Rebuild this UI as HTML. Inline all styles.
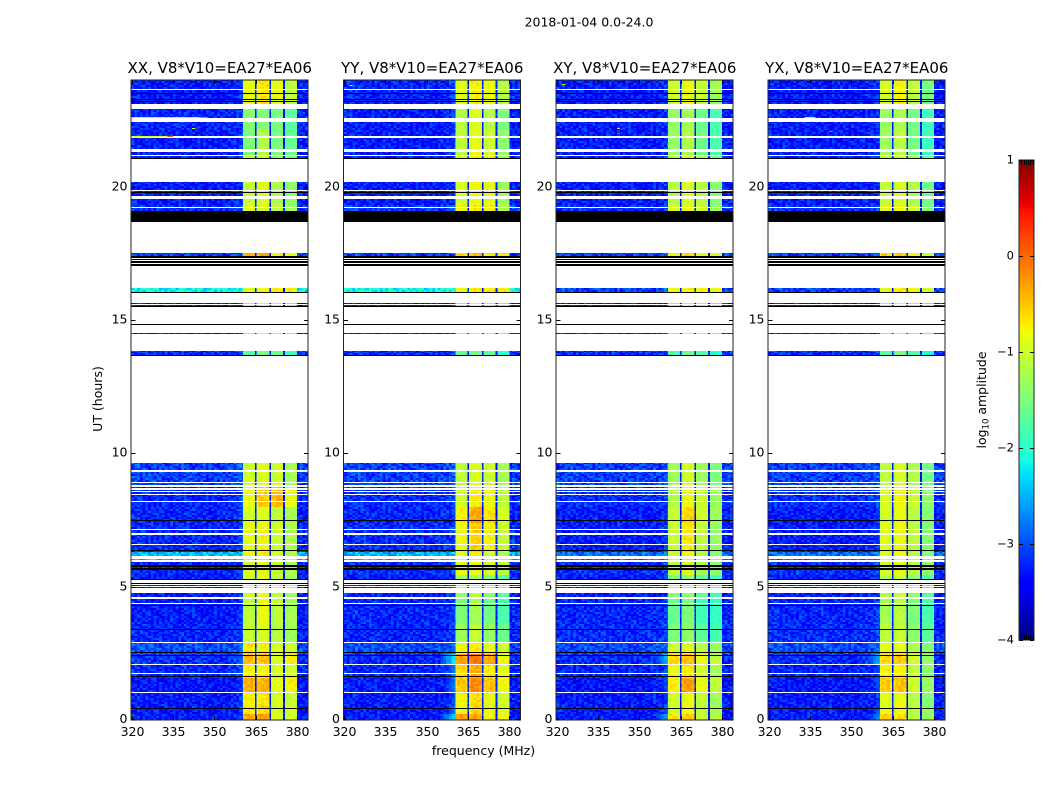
<!DOCTYPE html>
<html lang="en">
<head>
<meta charset="utf-8">
<title>2018-01-04 0.0-24.0</title>
<style>
html,body{margin:0;padding:0;background:#fff;width:1050px;height:800px;overflow:hidden}
svg{display:block;font-family:"DejaVu Sans","Liberation Sans",sans-serif}
#cells,#marks,#black-rows{shape-rendering:crispEdges}
</style>
</head>
<body>
<svg id="chart" xmlns="http://www.w3.org/2000/svg" width="1050" height="800" viewBox="0 0 1050 800">
  <defs>
    <linearGradient id="jet-gradient" x1="0" y1="1" x2="0" y2="0"></linearGradient>
  </defs>
  <text x="589" y="26.500" font-size="12.500" text-anchor="middle" fill="#000">2018-01-04 0.0-24.0</text>
  <g id="cells"></g>
  <g id="marks"></g>
  <g id="black-rows"></g>
  <g id="axes"></g>
  <text x="483.500" y="755" font-size="12.500" text-anchor="middle" fill="#000">frequency (MHz)</text>
  <text transform="translate(102,399) rotate(-90)" font-size="12.500" text-anchor="middle" fill="#000">UT (hours)</text>
  <g id="colorbar"></g>
  <text transform="translate(986,400) rotate(-90)" font-size="12.500" text-anchor="middle" fill="#000">log<tspan font-size="8.500" dy="2.500">10</tspan><tspan dy="-2.500"> amplitude</tspan></text>
</svg>
<script>
// ---- Chart data ----
const panelTitles = ["XX, V8*V10=EA27*EA06", "YY, V8*V10=EA27*EA06", "XY, V8*V10=EA27*EA06", "YX, V8*V10=EA27*EA06"];
const xTickValues = [320, 335, 350, 365, 380];
const yTickValues = [0, 5, 10, 15, 20];
const colorbarTickValues = [1, 0, -1, -2, -3, -4];
const colorbarTickLabels = ["1", "0", "\u22121", "\u22122", "\u22123", "\u22124"];
const colorbarMinorFractions = [0.15, 0.3, 0.45, 0.6, 0.75, 0.9];

// Frequency channel edges (MHz)
const channelEdges = [320,321,322,323,324,325,326,327,328,329,330,331,332,333,334,335,336,337,338,339,340,341,342,343,344,345,346,347,348,349,350,351,352,353,354,355,356,357,358,359,360,360.4,361,362,363,364,364.8,365.4,366,367,368,369,370,370.5,371,372,373,374,375,375.6,376,377,378,379,380,381,382,383,384];
// Spectral regions: region k covers bandEdges[k]..bandEdges[k+1]
const bandEdges = [320, 360.4, 364.8, 365.4, 370, 370.5, 375, 375.6, 380, 384];
const bandKinds = ["low", "b1", "dip", "b2", "dip", "b3", "dip", "b4", "top"];
const dipLevels = [-3.3, -3.25, -3.3, -3.3];
// Per-channel offset from the level of its region (log10 amplitude)
const channelOffsets = [0.05,0.03,0.05,0.02,0.04,0.03,0,0.02,0.01,0,0.02,0,0.01,0,0.01,0,0,-0.01,0,0.01,0,-0.02,0,0.01,0,-0.02,0,-0.01,0,-0.02,0,-0.01,-0.02,0,0,0.02,0.03,0.05,0.08,0.12,0.18,-0.08,0,0.03,0.02,-0.1,0,-0.1,0,0.03,0.03,0,-0.06,0,-0.06,0.02,0.03,0.02,-0.05,0,-0.05,0.02,0.02,0,-0.06,0.05,0,0,0.02];

// Observed time ranges (UT hours); everything else is left blank
const observedSpans = [[0,1.01],[1.05,1.71],[1.75,2.05],[2.09,2.88],[2.93,4.35],[4.39,4.54],[4.62,4.75],[4.95,4.99],[5.03,5.06],[5.28,5.63],[5.69,5.75],[5.81,5.94],[6.0,6.04],[6.14,6.55],[6.59,6.95],[7.01,7.11],[7.16,8.13],[8.16,8.19],[8.21,8.44],[8.49,8.55],[8.59,8.63],[8.69,8.75],[8.81,8.89],[8.91,9.31],[9.36,9.64],[13.68,13.84],[14.48,14.51],[15.53,15.57],[15.6,15.64],[16.06,16.2],[17.4,17.51],[19.09,19.2],[19.24,19.53],[19.64,19.84],[19.86,20.19],[21.08,21.14],[21.19,21.3],[21.41,21.84],[21.89,22.43],[22.56,22.91],[23.11,23.61],[23.65,24]];
// Fully flagged rows drawn black (UT hours)
const blackRows = [[0.42,0.45],[1.62,1.65],[2.41,2.45],[2.5,2.55],[3.38,3.4],[4.29,4.31],[5.1,5.15],[5.24,5.28],[5.63,5.69],[5.75,5.81],[6.34,6.38],[7.46,7.5],[13.65,13.68],[14.82,14.86],[15.48,15.53],[16.04,16.06],[17.04,17.1],[17.14,17.2],[17.24,17.29],[17.34,17.4],[18.69,19.09],[19.77,19.8],[21.03,21.08],[23.19,23.22],[23.24,23.27],[23.47,23.5]];

// Time epochs; each panel gives, per epoch: [low band, shoulder, band1, band2, band3, band4]
const epochEdges = [0,0.25,0.5,1,1.6,2.1,2.5,2.9,3.6,4.6,5.4,6,6.3,7.4,8,8.8,9.7,14,15.7,16.4,17.7,19.3,20.3,21.2,22.1,23,24];
const levelsXX = [
[-3.28,-3,-0.35,-0.3,-0.95,-0.95],[-3.28,-3,-0.7,-0.6,-1,-1],[-3.28,-3,-0.75,-0.7,-0.95,-1.05],[-3.32,-3,-0.4,-0.4,-0.85,-0.75],
[-3.2,-2.9,-0.75,-0.8,-0.95,-1],[-3.15,-2.8,-0.45,-0.5,-0.9,-0.75],[-3,-2.8,-0.7,-0.75,-0.95,-1.05],[-3.22,-3,-1.05,-0.95,-1.15,-1.3],
[-3.28,-3,-1.1,-0.85,-1.1,-1.25],[-3.28,-3.1,-1,-0.9,-1.1,-1.3],[-3.22,-3,-0.95,-0.9,-1.05,-1.2],[-2.45,-2.4,-0.8,-0.7,-0.95,-1.15],
[-3.22,-3,-0.85,-0.8,-1.05,-1.2],[-3.22,-3,-1,-0.9,-1.1,-1.25],[-3.22,-3,-0.85,-0.55,-0.45,-0.85],[-3.08,-2.9,-1,-0.9,-1,-1.25],
[-3.18,-3,-1.75,-1.5,-1.6,-1.9],[-3.28,-3.1,-1.2,-0.85,-1.1,-1.5],[-2.15,-2.1,-0.95,-0.75,-0.75,-0.75],[-3.1,-3,-0.4,-0.35,-0.8,-0.8],
[-3.18,-3,-0.85,-0.95,-1.1,-1.25],[-3.28,-3.1,-1.05,-0.9,-1.2,-1.4],[-3.28,-3.1,-1.05,-1.05,-1.35,-1.45],[-3.28,-3.1,-1.5,-1.2,-1.5,-1.65],
[-3.22,-3.1,-1.45,-1.45,-1.55,-1.7],[-3.28,-3.1,-0.85,-0.7,-0.85,-1.1]];
const levelsYY = [
[-3.28,-2.3,-0.25,-0.35,-0.75,-0.8],[-3.28,-2.7,-0.85,-0.6,-0.85,-0.95],[-3.28,-2.9,-0.75,-0.65,-0.85,-1],[-3.28,-2.7,-0.5,-0.2,-0.5,-0.8],
[-3.22,-2.7,-0.6,-0.4,-0.7,-0.9],[-3.22,-2.2,-0.3,-0.1,-0.35,-0.8],[-3.02,-2.8,-0.8,-0.7,-0.85,-1],[-3.22,-3,-1.3,-1.1,-1.35,-1.6],
[-3.22,-3,-1.5,-1.25,-1.55,-1.8],[-3.28,-3.1,-1.35,-1.2,-1.4,-1.7],[-3.18,-3,-0.85,-0.85,-0.95,-1.1],[-2.5,-2.4,-0.95,-0.75,-1,-1.2],
[-3.18,-3,-0.85,-0.55,-0.75,-1.05],[-3.22,-3,-0.75,-0.35,-0.65,-0.95],[-3.18,-3,-1,-0.75,-0.85,-1.1],[-3.08,-3,-1.1,-0.95,-1,-1.25],
[-3.18,-3,-1.7,-1.55,-1.65,-1.95],[-3.28,-3.1,-1.3,-0.95,-1.2,-1.6],[-2.15,-2.1,-0.85,-0.7,-0.7,-0.7],[-3.1,-3,-0.6,-0.5,-0.7,-0.75],
[-3.12,-3,-0.75,-0.7,-0.75,-1.15],[-3.28,-3.1,-0.95,-0.8,-0.85,-1.3],[-3.28,-3.1,-0.9,-0.75,-0.8,-1.2],[-3.28,-3.1,-1.1,-0.85,-1,-1.4],
[-3.28,-3.1,-1.15,-0.95,-1.15,-1.5],[-3.22,-3.1,-0.9,-0.75,-0.85,-1.15]];
const levelsXY = [
[-3.28,-2.5,-0.65,-0.55,-1.05,-1.15],[-3.28,-2.9,-1,-0.85,-1.15,-1.25],[-3.28,-3,-1,-0.85,-1.1,-1.3],[-3.32,-2.9,-0.7,-0.3,-0.85,-1.1],
[-3.22,-2.9,-0.85,-0.7,-1,-1.25],[-3.18,-2.4,-0.6,-0.5,-0.85,-1.1],[-3.02,-2.8,-1,-0.95,-1.15,-1.35],[-3.18,-3,-1.5,-1.4,-1.7,-1.85],
[-3.22,-3,-1.6,-1.5,-1.85,-1.95],[-3.28,-3.1,-1.45,-1.4,-1.65,-1.85],[-3.18,-3,-1.1,-0.95,-1.25,-1.4],[-2.85,-2.8,-1.05,-0.85,-1.2,-1.45],
[-3.28,-3,-1.05,-0.7,-1.1,-1.35],[-3.28,-3,-1.05,-0.6,-1,-1.3],[-3.18,-3,-1.2,-0.85,-1.05,-1.3],[-3.08,-3,-1.3,-1,-1.3,-1.5],
[-3.18,-3,-1.8,-1.65,-1.75,-2.05],[-3.28,-3.1,-1.35,-1.05,-1.25,-1.6],[-3.08,-3,-0.85,-0.75,-0.75,-0.9],[-3.08,-3,-0.75,-0.6,-0.85,-0.95],
[-3.18,-3,-0.95,-0.85,-1,-1.3],[-3.28,-3.1,-1.15,-0.95,-1.15,-1.45],[-3.28,-3.1,-1.1,-0.95,-1.15,-1.45],[-3.28,-3.1,-1.35,-1.2,-1.6,-1.8],
[-3.28,-3.1,-1.35,-1.25,-1.6,-1.85],[-3.28,-3.1,-1,-0.85,-1.05,-1.3]];
const levelsYX = [
[-3.28,-2.6,-0.55,-0.65,-1.1,-1.35],[-3.28,-2.9,-0.85,-0.85,-1.15,-1.4],[-3.28,-3,-0.9,-0.85,-1.15,-1.45],[-3.32,-2.9,-0.55,-0.5,-1,-1.35],
[-3.22,-2.9,-0.75,-0.75,-1.1,-1.4],[-3.18,-2.45,-0.6,-0.55,-1,-1.35],[-3.02,-2.8,-0.85,-0.9,-1.2,-1.45],[-3.18,-3,-1.1,-1.05,-1.4,-1.7],
[-3.22,-3,-1.25,-1.15,-1.5,-1.8],[-3.28,-3.1,-1.2,-1.05,-1.4,-1.75],[-3.18,-3,-0.95,-0.85,-1.15,-1.4],[-2.85,-2.8,-0.95,-0.85,-1.15,-1.45],
[-3.28,-3,-0.9,-0.8,-1.1,-1.45],[-3.28,-3,-1,-0.85,-1.15,-1.45],[-3.18,-3,-0.95,-0.8,-1.05,-1.4],[-3.08,-3,-1.1,-0.95,-1.2,-1.55],
[-3.18,-3,-1.75,-1.55,-1.75,-2.1],[-3.28,-3.1,-1.3,-0.95,-1.3,-1.7],[-3.08,-3,-0.85,-0.7,-0.8,-1],[-3.08,-3,-0.6,-0.55,-0.85,-1.05],
[-3.18,-3,-0.85,-0.8,-1,-1.45],[-3.28,-3.1,-1.05,-0.95,-1.2,-1.6],[-3.28,-3.1,-1.05,-0.95,-1.25,-1.6],[-3.28,-3.1,-1.3,-1.15,-1.55,-1.9],
[-3.28,-3.1,-1.3,-1.2,-1.55,-1.9],[-3.28,-3.1,-0.95,-0.8,-1.1,-1.55]];
const panelLevels = [levelsXX, levelsYY, levelsXY, levelsYX];

// Narrow interference streaks: panel, hour, start MHz, end MHz, log10 amplitude
const streakPanels = [0,0,0,0,0,1,2,2,2,3,3];
const streakHours = [22.63,22.63,21.91,21.91,22.2,23.8,23.85,22.2,22,22.1,22.63];
const streakStarts = [320,345,320,333,342,322,322,342,342,342,333];
const streakEnds = [345,348,333,335,343,323,323,343,343,343,337];
const streakValues = [-1.2,0,-0.9,0.1,-1,-1,-0.7,-0.5,0.3,0,-1.4];

// Illustrative fine-grain speckle (not readable cell by cell from the picture): fixed digit table, 0-9 around a mid value.
const speckleRows = [
"2750916483372618094521738406295173860",
"8316042759160483927361509842716035948",
"4092731856627195034881624970352819467",
"1675380249854036172963041785269430178",
"9240617538013792846150369274018653729",
"5381094726249568013746892105374826190",
"0764825931736140295683517029648372514",
"6129473080592837164025798316450927683",
"3857012964416920573881245069731826405",
"7403258619085376124937604812593047261",
"1968340275763208915462071953840176392",
"5027186394248651073926415830792614058",
"8631920457091745382160589243706125984",
"2490675138367012849576132804965378021",
"6175048293520896471308267451039862745",
"0342819567184263705918430692571348096"];

// matplotlib "jet" colour map control points
const jetRedStops = [[0,0],[0.35,0],[0.66,1],[0.89,1],[1,0.5]];
const jetGreenStops = [[0,0],[0.125,0],[0.375,1],[0.64,1],[0.91,0],[1,0]];
const jetBlueStops = [[0,0.5],[0.11,1],[0.34,1],[0.65,0],[1,0]];
const colorDomain = [-4, 1];

// ---- Layout ----
const SVGNS = "http://www.w3.org/2000/svg";
const panelLefts = [131.5, 344, 556.5, 768.5];
const panelWidth = 176.5;
const plotTop = 80;
const plotBottom = 720;
const cbarBox = {x: 1019, y: 160, w: 15, h: 480};
const freqDomain = [320, 384];
const hourDomain = [0, 24];
const rowStep = 0.075;

// ---- Axis functions ----
function xScale(panel, mhz) { return panelLefts[panel] + (mhz - freqDomain[0]) / (freqDomain[1] - freqDomain[0]) * panelWidth; }
function yScale(hour) { return plotBottom - (hour - hourDomain[0]) / (hourDomain[1] - hourDomain[0]) * (plotBottom - plotTop); }
function cbarY(v) { return cbarBox.y + cbarBox.h - (v - colorDomain[0]) / (colorDomain[1] - colorDomain[0]) * cbarBox.h; }
function interp(stops, f) {
  for (let i = 1; i < stops.length; i++) {
    if (f <= stops[i][0]) {
      const a = stops[i - 1], b = stops[i];
      return a[1] + (b[1] - a[1]) * (f - a[0]) / (b[0] - a[0]);
    }
  }
  return stops[stops.length - 1][1];
}
function colorOf(v) {
  const f = Math.max(0, Math.min(1, (v - colorDomain[0]) / (colorDomain[1] - colorDomain[0])));
  return "rgb(" + Math.round(interp(jetRedStops, f) * 255) + "," + Math.round(interp(jetGreenStops, f) * 255) + "," + Math.round(interp(jetBlueStops, f) * 255) + ")";
}
function epochIndex(hour) {
  for (let i = 0; i < epochEdges.length - 1; i++) { if (hour < epochEdges[i + 1]) return i; }
  return epochEdges.length - 2;
}
function bandKindOf(mhz) {
  for (let i = 0; i < bandKinds.length; i++) { if (mhz < bandEdges[i + 1]) return bandKinds[i]; }
  return bandKinds[bandKinds.length - 1];
}
function speckleAt(panel, row, ch) {
  const line = speckleRows[(row + panel * 5) % speckleRows.length];
  return (Number(line[(ch + row * 7 + panel * 11) % line.length]) - 4.5) / 4.5;
}
function cellValue(panel, hour, row, ch) {
  const lv = panelLevels[panel][epochIndex(hour)];
  const mid = (channelEdges[ch] + channelEdges[ch + 1]) / 2;
  const kind = bandKindOf(mid);
  const off = channelOffsets[ch] || 0;
  const s = speckleAt(panel, row, ch);
  if (kind === "b1") return lv[2] + off + s * 0.12;
  if (kind === "b2") return lv[3] + off + s * 0.12;
  if (kind === "b3") return lv[4] + off + s * 0.12;
  if (kind === "b4") return lv[5] + off + s * 0.12;
  if (kind === "dip") return dipLevels[panel] + s * 0.2;
  const base = lv[0] + off + s * 0.3;
  if (kind === "low" && mid > 355) return Math.max(base, lv[1] - (360.4 - mid) * 0.16 + s * 0.12);
  return base;
}

// ---- Heatmap cells ----
const cellsLayer = document.getElementById("cells");
for (let p = 0; p < panelLevels.length; p++) {
  const panelGroup = document.createElementNS(SVGNS, "g");
  
  
  let row = 0;
  observedSpans.forEach(function (span) {
    for (let t = span[0]; t < span[1] - 1e-6; t += rowStep) {
      const t1 = Math.min(t + rowStep, span[1]);
      const yTop = Math.round(yScale(t1));
      const yBot = Math.max(yTop + 1, Math.round(yScale(t)));
      for (let c = 0; c < channelEdges.length - 1; c++) {
        const x0 = xScale(p, channelEdges[c]);
        const x1 = xScale(p, channelEdges[c + 1]);
        const cell = document.createElementNS(SVGNS, "rect");
        
        
        cell.setAttribute("x", x0.toFixed(1));
        cell.setAttribute("y", yTop);
        cell.setAttribute("width", (x1 - x0 + 0.2).toFixed(1));
        cell.setAttribute("height", yBot - yTop);
        cell.setAttribute("fill", colorOf(cellValue(p, (t + t1) / 2, row, c)));
        panelGroup.appendChild(cell);
      }
      row++;
    }
  });
  cellsLayer.appendChild(panelGroup);
}

// ---- Hot streaks ----
const marksLayer = document.getElementById("marks");
streakValues.forEach(function (val, i) {
  const p = streakPanels[i];
  const streak = document.createElementNS(SVGNS, "rect");
  
  
  streak.setAttribute("x", xScale(p, streakStarts[i]).toFixed(1));
  streak.setAttribute("y", Math.round(yScale(streakHours[i])));
  streak.setAttribute("width", (xScale(p, streakEnds[i]) - xScale(p, streakStarts[i])).toFixed(1));
  streak.setAttribute("height", 1);
  streak.setAttribute("fill", colorOf(val));
  marksLayer.appendChild(streak);
});

// ---- Flagged black rows (all panels) ----
const blackLayer = document.getElementById("black-rows");
panelLefts.forEach(function (left, p) {
  blackRows.forEach(function (r) {
    const yTop = Math.round(yScale(r[1]));
    const yBot = Math.max(yTop + 1, Math.round(yScale(r[0])));
    const bar = document.createElementNS(SVGNS, "rect");
    
    
    bar.setAttribute("x", xScale(p, freqDomain[0]).toFixed(1));
    bar.setAttribute("y", yTop);
    bar.setAttribute("width", panelWidth);
    bar.setAttribute("height", yBot - yTop);
    bar.setAttribute("fill", "#000");
    blackLayer.appendChild(bar);
  });
});

// ---- Axes ----
const axesLayer = document.getElementById("axes");
panelTitles.forEach(function (title, p) {
  const left = panelLefts[p];
  const frame = document.createElementNS(SVGNS, "rect");
  
  
  frame.setAttribute("x", left - 0.5);
  frame.setAttribute("y", plotTop);
  frame.setAttribute("width", panelWidth + 0.5);
  frame.setAttribute("height", plotBottom - plotTop);
  frame.setAttribute("fill", "none");
  frame.setAttribute("stroke", "#222");
  frame.setAttribute("stroke-width", "1");
  axesLayer.appendChild(frame);

  const titleText = document.createElementNS(SVGNS, "text");
  
  
  titleText.setAttribute("x", left + panelWidth / 2);
  titleText.setAttribute("y", 73);
  titleText.setAttribute("font-size", "15");
  titleText.setAttribute("text-anchor", "middle");
  titleText.textContent = title;
  axesLayer.appendChild(titleText);

  xTickValues.forEach(function (val) {
    const x = Math.round(xScale(p, val)) + 0.5;
    [[plotBottom, plotBottom - 4], [plotTop, plotTop + 4]].forEach(function (seg) {
      const tick = document.createElementNS(SVGNS, "line");
      
      
      tick.setAttribute("x1", x);
      tick.setAttribute("x2", x);
      tick.setAttribute("y1", seg[0]);
      tick.setAttribute("y2", seg[1]);
      tick.setAttribute("stroke", "#000");
      axesLayer.appendChild(tick);
    });
    const label = document.createElementNS(SVGNS, "text");
    
    
    label.setAttribute("x", x);
    label.setAttribute("y", 736);
    label.setAttribute("font-size", "12.500");
    label.setAttribute("text-anchor", "middle");
    label.textContent = String(val);
    axesLayer.appendChild(label);
  });

  yTickValues.forEach(function (val) {
    const y = Math.round(yScale(val)) + (val === 0 ? 0 : 0.5);
    [[left, left + 4], [left + panelWidth, left + panelWidth - 4]].forEach(function (seg) {
      const tick = document.createElementNS(SVGNS, "line");
      
      
      tick.setAttribute("x1", seg[0]);
      tick.setAttribute("x2", seg[1]);
      tick.setAttribute("y1", y);
      tick.setAttribute("y2", y);
      tick.setAttribute("stroke", "#000");
      axesLayer.appendChild(tick);
    });
    const label = document.createElementNS(SVGNS, "text");
    
    
    label.setAttribute("x", left - 4);
    label.setAttribute("y", y + 3);
    label.setAttribute("font-size", "12.500");
    label.setAttribute("text-anchor", "end");
    label.textContent = String(val);
    axesLayer.appendChild(label);
  });
});

// ---- Colour bar ----
const gradient = document.getElementById("jet-gradient");
const gradientFractions = [0, 0.11, 0.125, 0.34, 0.35, 0.375, 0.64, 0.65, 0.66, 0.89, 0.91, 1];
gradientFractions.forEach(function (f) {
  const stop = document.createElementNS(SVGNS, "stop");
  stop.setAttribute("offset", f);
  stop.setAttribute("stop-color", colorOf(colorDomain[0] + f * (colorDomain[1] - colorDomain[0])));
  gradient.appendChild(stop);
});
const cbarLayer = document.getElementById("colorbar");
const cbarRect = document.createElementNS(SVGNS, "rect");


cbarRect.setAttribute("x", cbarBox.x);
cbarRect.setAttribute("y", cbarBox.y);
cbarRect.setAttribute("width", cbarBox.w);
cbarRect.setAttribute("height", cbarBox.h);
cbarRect.setAttribute("fill", "url(#jet-gradient)");
cbarRect.setAttribute("stroke", "#222");
cbarRect.setAttribute("stroke-width", "1");
cbarLayer.appendChild(cbarRect);
colorbarTickValues.forEach(function (val, i) {
  const y = Math.round(cbarY(val)) + 0.5;
  [[cbarBox.x, cbarBox.x + 4], [cbarBox.x + cbarBox.w, cbarBox.x + cbarBox.w - 4]].forEach(function (seg) {
    const tick = document.createElementNS(SVGNS, "line");
    
    
    tick.setAttribute("x1", seg[0]);
    tick.setAttribute("x2", seg[1]);
    tick.setAttribute("y1", y);
    tick.setAttribute("y2", y);
    tick.setAttribute("stroke", "#000");
    cbarLayer.appendChild(tick);
  });
  const label = document.createElementNS(SVGNS, "text");
  
  
  label.setAttribute("x", cbarBox.x - 5);
  label.setAttribute("y", y + 3);
  label.setAttribute("font-size", "11.500");
  label.setAttribute("text-anchor", "end");
  label.textContent = colorbarTickLabels[i];
  cbarLayer.appendChild(label);
});
colorbarMinorFractions.forEach(function (f) {
  const x = Math.round(cbarBox.x + f * cbarBox.w) + 0.5;
  [[cbarBox.y, cbarBox.y + 5], [cbarBox.y + cbarBox.h, cbarBox.y + cbarBox.h - 5]].forEach(function (seg) {
    const tick = document.createElementNS(SVGNS, "line");
    
    
    tick.setAttribute("x1", x);
    tick.setAttribute("x2", x);
    tick.setAttribute("y1", seg[0]);
    tick.setAttribute("y2", seg[1]);
    tick.setAttribute("stroke", "#000");
    cbarLayer.appendChild(tick);
  });
});
const cbarDots = document.createElementNS(SVGNS, "text");


cbarDots.setAttribute("x", cbarBox.x - 2);
cbarDots.setAttribute("y", 647);
cbarDots.setAttribute("font-size", "5");
cbarDots.setAttribute("letter-spacing", "1.300");
cbarDots.setAttribute("fill", "#888");
cbarDots.textContent = "......";
cbarLayer.appendChild(cbarDots);
</script>
</body>
</html>
